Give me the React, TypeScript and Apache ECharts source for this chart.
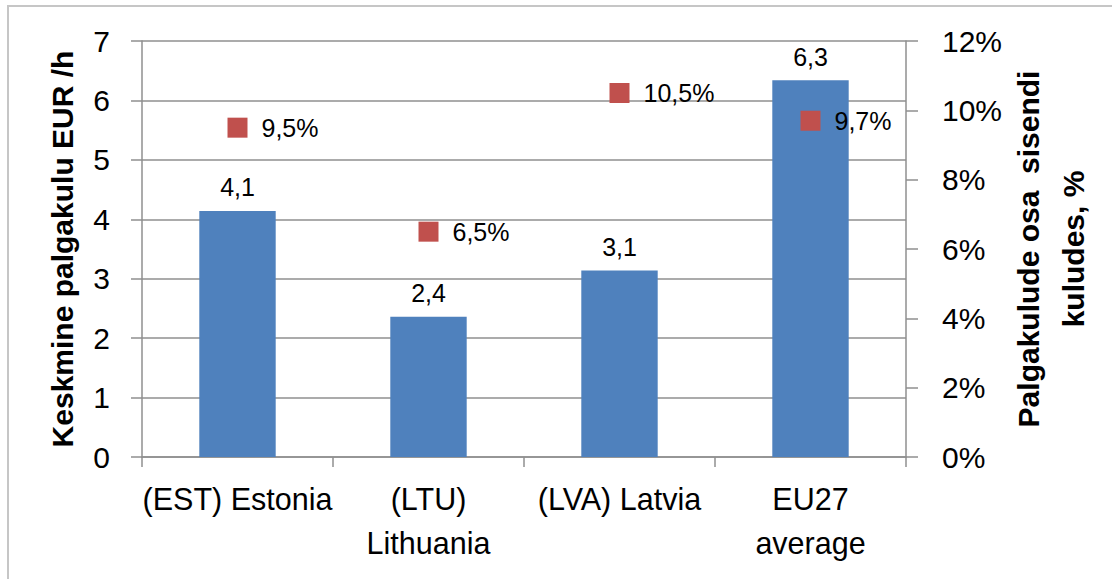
import React, { useEffect, useRef } from "react";
import * as echarts from "echarts";

const categories = ["(EST) Estonia", "(LTU)\nLithuania", "(LVA) Latvia", "EU27\naverage"];
const laborCost = [4.14, 2.36, 3.14, 6.34];
const laborShare = [9.5, 6.5, 10.5, 9.7];
const leftTicks = { min: 0, max: 7, interval: 1 };
const rightTicks = { min: 0, max: 12, interval: 2 };
const leftTitle = "Keskmine palgakulu EUR /h";
const rightTitle = "Palgakulude osa  sisendi\nkuludes, %";

const FONT = "'Liberation Sans', Arial, Helvetica, sans-serif";
const GRIDC = "#8f8f8f";

export default function App() {
  const ref = useRef<HTMLDivElement>(null);
  useEffect(() => {
    document.body.style.margin = "0";
    const chart = echarts.init(ref.current!, null, { renderer: "svg" });
    const comma = (v: number) => v.toFixed(1).replace(".", ",");
    chart.setOption({
      animation: false,
      backgroundColor: "#ffffff",
      textStyle: { fontFamily: FONT, color: "#000" },
      graphic: [
        {
          type: "rect",
          shape: { x: 8, y: 6, width: 1120, height: 600 },
          style: { fill: "none", stroke: "#c6c6c6", lineWidth: 2 },
          silent: true,
          z: -10,
        },
        {
          type: "text",
          x: 1051,
          y: 249,
          rotation: Math.PI / 2,
          style: {
            text: rightTitle,
            fontFamily: FONT,
            fontSize: 30,
            fontWeight: "bold",
            fill: "#000",
            lineHeight: 45,
            align: "center",
            verticalAlign: "middle",
          },
        },
      ],
      grid: { left: 142, right: 206, top: 41, bottom: 122 },
      xAxis: {
        type: "category",
        data: categories,
        axisLine: { show: true, lineStyle: { color: GRIDC, width: 1.5 } },
        axisTick: { show: true, length: 10, lineStyle: { color: GRIDC, width: 1.5 } },
        axisLabel: {
          color: "#000",
          fontFamily: FONT,
          fontSize: 30.5,
          lineHeight: 44,
          margin: 20,
          interval: 0,
        },
      },
      yAxis: [
        {
          type: "value",
          min: leftTicks.min,
          max: leftTicks.max,
          interval: leftTicks.interval,
          name: leftTitle,
          nameLocation: "middle",
          nameRotate: 90,
          nameGap: 65,
          nameTextStyle: { fontFamily: FONT, fontSize: 30, fontWeight: "bold", color: "#000" },
          axisLine: { show: true, lineStyle: { color: GRIDC, width: 1.5 } },
          axisTick: { show: true, inside: false, length: 11, lineStyle: { color: GRIDC, width: 1.5 } },
          axisLabel: { color: "#000", fontFamily: FONT, fontSize: 30, margin: 32 },
          splitLine: { show: true, lineStyle: { color: GRIDC, width: 1.5 } },
        },
        {
          type: "value",
          position: "right",
          min: rightTicks.min,
          max: rightTicks.max,
          interval: rightTicks.interval,
          axisLine: { show: true, lineStyle: { color: GRIDC, width: 1.5 } },
          axisTick: { show: true, inside: false, length: 12, lineStyle: { color: GRIDC, width: 1.5 } },
          axisLabel: {
            color: "#000",
            fontFamily: FONT,
            fontSize: 30,
            margin: 36,
            formatter: "{value}%",
          },
          splitLine: { show: false },
        },
      ],
      series: [
        {
          type: "bar",
          yAxisIndex: 0,
          data: laborCost,
          barWidth: "40%",
          itemStyle: { color: "#4f81bd" },
          label: {
            show: true,
            position: "top",
            distance: 11,
            color: "#000",
            fontFamily: FONT,
            fontSize: 25,
            formatter: (p: any) => comma(p.value),
          },
          z: 2,
        },
        {
          type: "scatter",
          yAxisIndex: 1,
          data: laborShare,
          symbol: "rect",
          symbolSize: 20,
          itemStyle: { color: "#c0504d", opacity: 1 },
          label: {
            show: true,
            position: "right",
            distance: 14,
            color: "#000",
            fontFamily: FONT,
            fontSize: 25,
            formatter: (p: any) => comma(p.value) + "%",
          },
          z: 3,
        },
      ],
    });
    return () => chart.dispose();
  }, []);
  return <div ref={ref} style={{ width: 1112, height: 579 }} />;
}
